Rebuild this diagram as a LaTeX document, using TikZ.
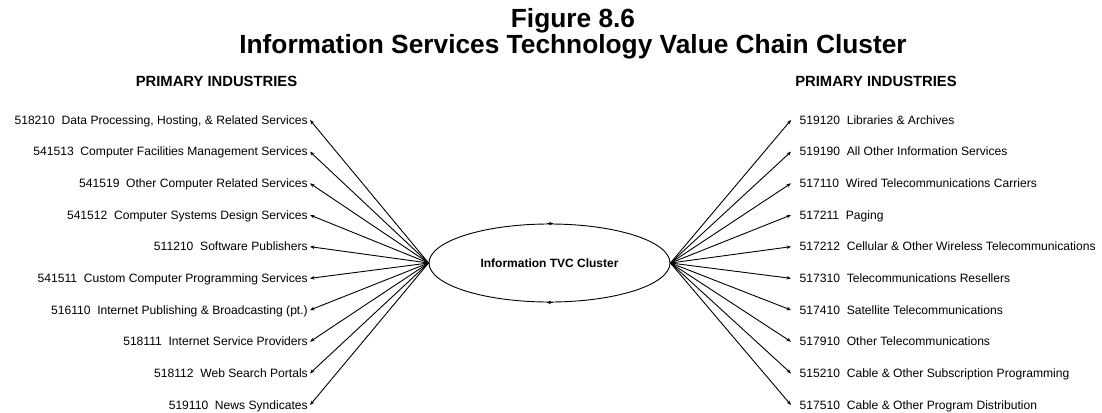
\documentclass[tikz,border=0pt]{standalone}
\usepackage{fontspec}
\setmainfont{Liberation Sans}
\usetikzlibrary{shapes.geometric,arrows.meta}
\begin{document}
\begin{tikzpicture}[x=1pt,y=-1pt,
  lbl/.style={font=\fontsize{12.1}{12}\selectfont, text height=8.6pt, text depth=0pt, inner ysep=0pt},
  lftlbl/.style={lbl, anchor=east, inner xsep=2pt},
  rgtlbl/.style={lbl, anchor=west, inner xsep=8.5pt},
  conn/.style={line width=0.9pt, -{Stealth[length=4.5pt,width=3.5pt]}},
  head/.style={font=\fontsize{14.8}{15}\bfseries, inner sep=0pt, anchor=base},
  title/.style={font=\fontsize{26.3}{26}\bfseries, inner sep=0pt, anchor=base}]
\useasboundingbox (0,0) rectangle (1102,412);
\fill[white] (0,0) rectangle (1102,412);
\node[title] (t1) at (573,28) {Figure 8.6};
\node[title] (t2) at (573,54) {Information Services Technology Value Chain Cluster};
\node[head] (h1) at (216.5,86) {PRIMARY INDUSTRIES};
\node[head] (h2) at (876,86) {PRIMARY INDUSTRIES};
\node[draw, ellipse, line width=0.9pt, minimum width=241pt, minimum height=78pt, inner sep=0pt,
      font=\fontsize{12}{12}\bfseries] (C) at (549.5,263) {Information TVC Cluster};
\draw[line width=0.9pt, -{Stealth[length=4.5pt,width=3.5pt]}] ([xshift=-3pt]C.north) -- ([xshift=4pt]C.north);
\draw[line width=0.9pt, -{Stealth[length=4.5pt,width=3.5pt]}] ([xshift=3pt]C.south) -- ([xshift=-3pt]C.south);
\foreach \i/\t [evaluate=\i as \yy using 120+(\i-1)*31.67] in {
  1/518210\ \ Data Processing{,} Hosting{,} \& Related Services,
  2/541513\ \ Computer Facilities Management Services,
  3/541519\ \ Other Computer Related Services,
  4/541512\ \ Computer Systems Design Services,
  5/511210\ \ Software Publishers,
  6/541511\ \ Custom Computer Programming Services,
  7/516110\ \ Internet Publishing \& Broadcasting (pt.),
  8/518111\ \ Internet Service Providers,
  9/518112\ \ Web Search Portals,
  10/519110\ \ News Syndicates} {
  \node[lftlbl] (L\i) at (310,\yy) {\t};
  \draw[conn] (C.west) -- (L\i.east);
}
\foreach \i/\t [evaluate=\i as \yy using 120+(\i-1)*31.67] in {
  1/519120\ \ Libraries \& Archives,
  2/519190\ \ All Other Information Services,
  3/517110\ \ Wired Telecommunications Carriers,
  4/517211\ \ Paging,
  5/517212\ \ Cellular \& Other Wireless Telecommunications,
  6/517310\ \ Telecommunications Resellers,
  7/517410\ \ Satellite Telecommunications,
  8/517910\ \ Other Telecommunications,
  9/515210\ \ Cable \& Other Subscription Programming,
  10/517510\ \ Cable \& Other Program Distribution} {
  \node[rgtlbl] (R\i) at (791,\yy) {\t};
  \draw[conn] (C.east) -- (R\i.west);
}
\end{tikzpicture}
\end{document}
